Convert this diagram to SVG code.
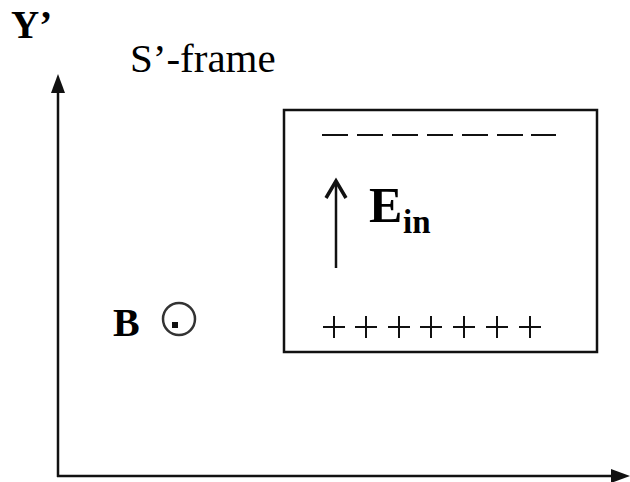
<svg xmlns="http://www.w3.org/2000/svg" width="630" height="482" viewBox="0 0 630 482">
<defs>
<style>
.ax{stroke:#111;stroke-width:2.5;fill:none}
.ln{stroke:#111;stroke-width:2;fill:none}
.t{font-family:"Liberation Serif","Times New Roman",serif;fill:#000}
.b{font-weight:bold}
</style>
</defs>
<rect width="630" height="482" fill="#fff"/>
<g id="connectors">
<line class="ax" x1="58" y1="477" x2="58" y2="92"/>
<path d="M58,74 L65,93 L51,93 Z" fill="#111"/>
<line class="ax" x1="57" y1="476" x2="612" y2="476"/>
<path d="M630,476 L611,469 L611,483 Z" fill="#111"/>
</g>
<g id="labels">
<text class="t b" x="11" y="38" font-size="39">Y’</text>
<text class="t" x="130" y="72" font-size="41">S’-frame</text>
</g>
<g id="B-field">
<text class="t b" x="113" y="336" font-size="40">B</text>
<circle cx="179" cy="319" r="16" fill="none" stroke="#333" stroke-width="2.5"/>
<rect x="172" y="322" width="6" height="6" fill="#111"/>
</g>
<g id="box">
<rect x="284" y="110" width="313" height="242" fill="none" stroke="#111" stroke-width="2.5"/>
<path class="ln" d="M322,135h26M357,135h26M392,135h26M427,135h26M462,135h26M497,135h26M531,135h25"/>
<path class="ln" d="M323,327h22M334,316v22 M355,327h22M366,316v22 M388,327h22M399,316v22 M420,327h22M431,316v22 M453,327h22M464,316v22 M486,327h22M497,316v22 M519,327h22M530,316v22"/>
<line x1="336" y1="268" x2="336" y2="183" stroke="#111" stroke-width="2.5"/>
<path d="M326,198 L336,181 L346,198" fill="none" stroke="#111" stroke-width="3.5" stroke-linejoin="miter"/>
<text class="t b" x="369" y="222" font-size="50">E</text>
<text class="t b" x="403" y="233" font-size="33">in</text>
</g>
</svg>
